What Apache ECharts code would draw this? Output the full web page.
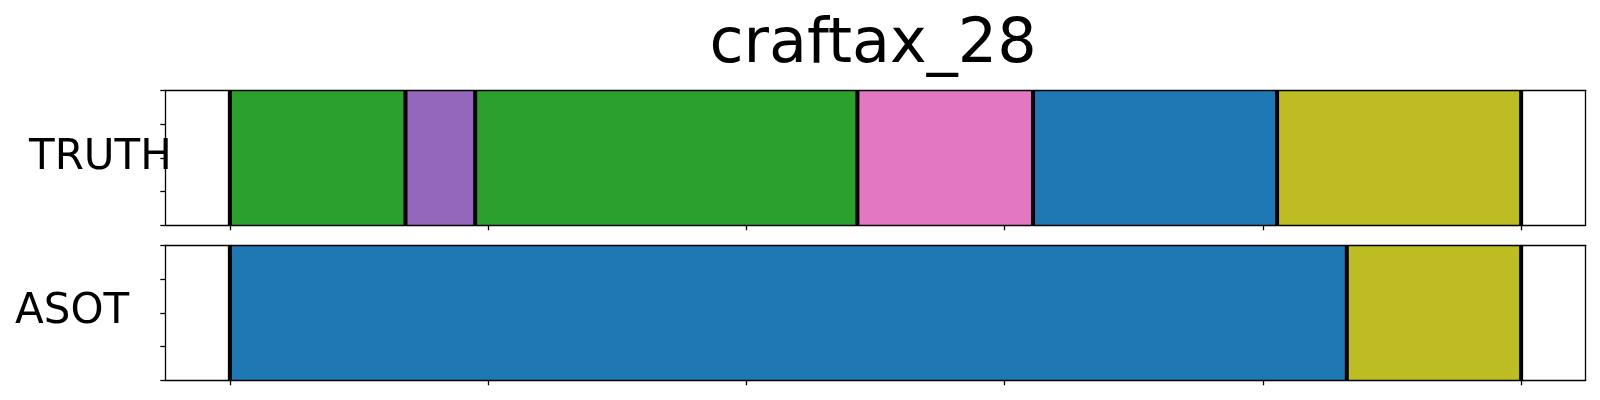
<!DOCTYPE html>
<html>
<head>
<meta charset="utf-8">
<script src="https://cdn.jsdelivr.net/npm/echarts@6/dist/echarts.min.js"></script>
<style>
html,body{margin:0;padding:0;background:#fff;}
#chart{width:1600px;height:400px;}
</style>
</head>
<body>
<div id="chart"></div>
<script>
// ---- data ----
const titleText = 'craftax_28';
const rowNames = ['TRUTH', 'ASOT'];
const xMin = 0, xMax = 500;
const xTicks = [0, 100, 200, 300, 400, 500];
const yTicks = [0, 0.25, 0.5, 0.75, 1];
const truthBounds = [0, 68, 95, 243, 311, 405.5, 500];
const truthClasses = ['green', 'purple', 'green', 'pink', 'blue', 'olive'];
const asotBounds = [0, 432.5, 500];
const asotClasses = ['blue', 'olive'];

// ---- styles ----
const classNames = ['blue', 'green', 'purple', 'pink', 'olive'];
const classColors = ['#1f77b4', '#2ca02c', '#9467bd', '#e377c2', '#bcbd22'];
const FONT = 'DejaVu Sans';
const margin = (xMax - xMin) * 0.05;

function segData(bounds, classes) {
  const out = [];
  for (let i = 0; i < classes.length; i++) {
    out.push([bounds[i], bounds[i + 1], classNames.indexOf(classes[i])]);
  }
  return out;
}

const grids = [
  {left: 165.3, right: 14.3, top: 90.3, height: 135},
  {left: 165.3, right: 14.3, top: 245.3, height: 135}
];

const xAxes = [], yAxes = [], series = [];
const lineStyle = {color: '#000', width: 1.3};
grids.forEach((g, gi) => {
  xAxes.push({type: 'value', gridIndex: gi, position: 'bottom', min: xMin - margin, max: xMax + margin, z: 10,
    axisLine: {show: true, onZero: false, lineStyle: lineStyle},
    axisTick: {show: true, customValues: xTicks, length: 5, lineStyle: lineStyle},
    axisLabel: {show: false}, splitLine: {show: false}});
  xAxes.push({type: 'value', gridIndex: gi, position: 'top', min: xMin - margin, max: xMax + margin, z: 10,
    axisLine: {show: true, onZero: false, lineStyle: lineStyle},
    axisTick: {show: false}, axisLabel: {show: false}, splitLine: {show: false}});
  yAxes.push({type: 'value', gridIndex: gi, position: 'left', min: 0, max: 1, z: 10,
    axisLine: {show: true, onZero: false, lineStyle: lineStyle},
    axisTick: {show: true, customValues: yTicks, length: 5, lineStyle: lineStyle},
    axisLabel: {show: false}, splitLine: {show: false}});
  yAxes.push({type: 'value', gridIndex: gi, position: 'right', min: 0, max: 1, z: 10,
    axisLine: {show: true, onZero: false, lineStyle: lineStyle},
    axisTick: {show: false}, axisLabel: {show: false}, splitLine: {show: false}});
});

const rows = [[truthBounds, truthClasses], [asotBounds, asotClasses]];
rows.forEach((r, gi) => {
  series.push({
    type: 'custom', xAxisIndex: gi * 2, yAxisIndex: gi * 2, z: 2,
    data: segData(r[0], r[1]),
    encode: {x: [0, 1]},
    renderItem: function (params, api) {
      const p0 = api.coord([api.value(0), 1]);
      const p1 = api.coord([api.value(1), 0]);
      return {type: 'rect', shape: {x: p0[0], y: p0[1], width: p1[0] - p0[0], height: p1[1] - p0[1]},
        style: {fill: classColors[api.value(2)]}};
    }
  });
  series.push({
    type: 'custom', xAxisIndex: gi * 2, yAxisIndex: gi * 2, z: 3,
    data: r[0].map(v => [v]),
    encode: {x: 0},
    renderItem: function (params, api) {
      const p0 = api.coord([api.value(0), 1]);
      const p1 = api.coord([api.value(0), 0]);
      return {type: 'line', shape: {x1: p0[0], y1: p0[1], x2: p1[0], y2: p1[1]},
        style: {stroke: '#000', lineWidth: 4}};
    }
  });
});

const chart = echarts.init(document.getElementById('chart'), null, {renderer: 'canvas'});
chart.setOption({
  animation: false,
  backgroundColor: '#fff',
  grid: grids,
  xAxis: xAxes,
  yAxis: yAxes,
  series: series,
  graphic: [
    {type: 'text', x: 873, y: 46, style: {text: titleText, font: '62px "' + FONT + '"', fill: '#000', align: 'center', verticalAlign: 'middle'}},
    {type: 'text', x: 29, y: 158.5, style: {text: rowNames[0], font: '42px "' + FONT + '"', fill: '#000', align: 'left', verticalAlign: 'middle'}},
    {type: 'text', x: 15, y: 312, style: {text: rowNames[1], font: '42px "' + FONT + '"', fill: '#000', align: 'left', verticalAlign: 'middle'}}
  ]
});
</script>
</body>
</html>
